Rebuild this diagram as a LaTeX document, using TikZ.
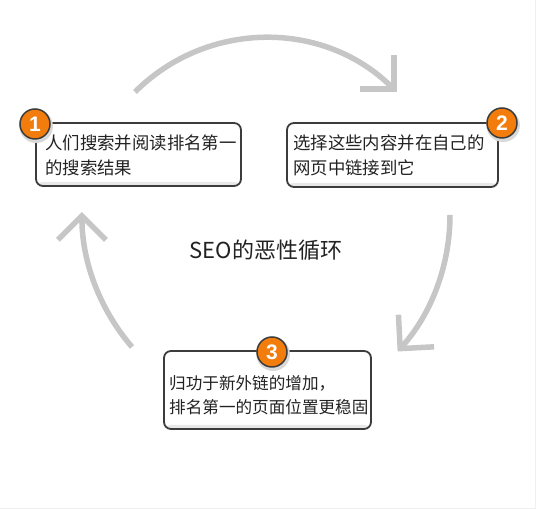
\documentclass[tikz,border=0pt]{standalone}
\usepackage{fontspec}
\newfontfamily\cjk{Noto Sans CJK SC}
\newfontfamily\numfont{Liberation Sans}
\usetikzlibrary{arrows.meta,shadows}
\definecolor{arrowgray}{HTML}{C6C6C6}
\definecolor{boxline}{HTML}{3C3C3C}
\definecolor{badgeorange}{HTML}{F27D0C}
\definecolor{txt}{HTML}{222222}
\tikzset{
  cyc/.style={draw=arrowgray, line width=5.5pt,
    -{Straight Barb[length=24pt,width=48pt,sharp]}},
  stepbox/.style={draw=boxline, line width=1.8pt, rounded corners=7pt, fill=white,
    inner sep=0pt,
    path picture={\fill[gray!18] ([yshift=4pt]path picture bounding box.south west)
      rectangle (path picture bounding box.south east);}},
  steptext/.style={anchor=west, align=left, inner sep=0pt, text=txt},
  badge/.style={circle, fill=badgeorange, draw=boxline, line width=1.5pt,
    minimum size=30pt, inner sep=0pt, text=white,
    font=\numfont\bfseries\fontsize{21}{21}\selectfont,
    drop shadow={shadow xshift=1pt, shadow yshift=-2pt, shadow scale=1.12,
      fill=gray!30, opacity=1}},
}
\begin{document}
\begin{tikzpicture}[x=1pt,y=1pt]
\useasboundingbox (0,0) rectangle (536,510);
\draw[gray!12, line width=1pt] (0,1) -- (535.5,1) -- (535.5,510);

% cycle arrows
\draw[cyc] (135,418) arc[start angle=135, end angle=45, radius=185];
\draw[cyc] (450,295) arc[start angle=0, end angle=-42, radius=204];
\draw[cyc] (132,163) arc[start angle=220.7, end angle=180, radius=207];

% boxes
\node[stepbox, minimum width=205pt, minimum height=63pt] (b1) at (138.5,355.5) {};
\node[stepbox, minimum width=211pt, minimum height=64pt] (b2) at (392.5,355) {};
\node[stepbox, minimum width=207pt, minimum height=78pt] (b3) at (267.5,120) {};

% texts
\node[steptext, font=\cjk\fontsize{17.4}{25}\selectfont] (t1) at (45,354.5)
  {人们搜索并阅读排名第一\\的搜索结果};
\node[steptext, font=\cjk\fontsize{17.4}{25}\selectfont] (t2) at (293,354.5)
  {选择这些内容并在自己的\\网页中链接到它};
\node[steptext, font=\cjk\fontsize{16.6}{24}\selectfont] (t3) at (169,115)
  {归功于新外链的增加，\\排名第一的页面位置更稳固};

% badges
\node[badge] (n1) at (35,386) {1};
\node[badge] (n2) at (502,387) {2};
\node[badge] (n3) at (272,158) {3};

% title
\node[font=\cjk\fontsize{22}{22}\selectfont, text=txt] (title) at (266,260) {SEO的恶性循环};
\end{tikzpicture}
\end{document}
